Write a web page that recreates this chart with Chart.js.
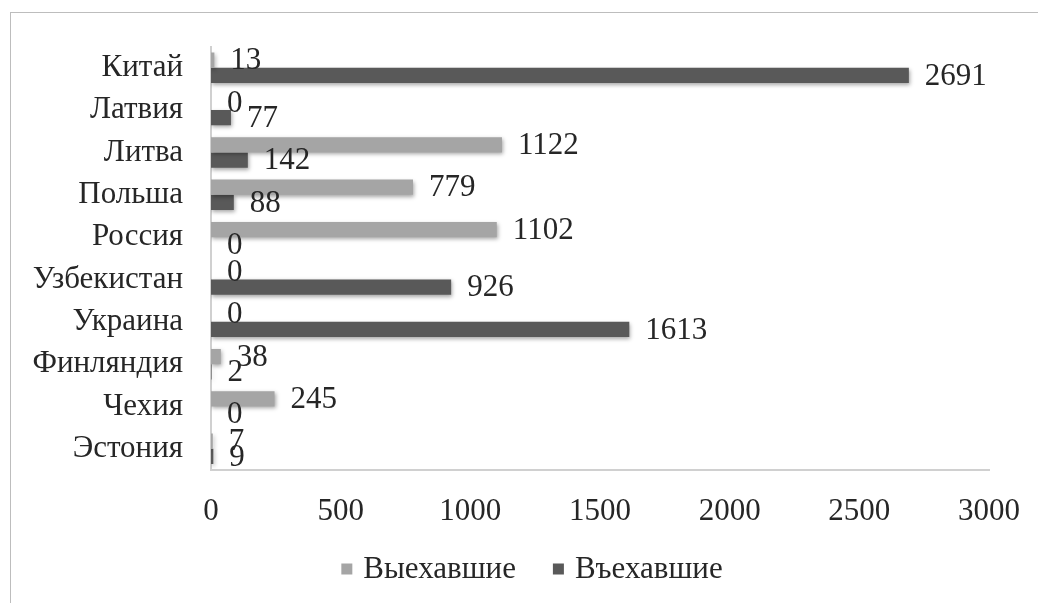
<!DOCTYPE html>
<html>
<head>
<meta charset="utf-8">
<script src="https://cdn.jsdelivr.net/npm/chart.js@4"></script>
<style>
  body { margin: 0; background: #fff; overflow: hidden; }
  #frame { position: absolute; left: 10px; top: 12px; width: 1200px; height: 800px; border: 1px solid #bdbdbd; }
  #wrap { position: absolute; left: 0; top: 0; width: 1038px; height: 603px; }
</style>
</head>
<body>
<div id="frame"></div>
<div id="wrap"><canvas id="migration"></canvas></div>
<script>
let countries = ["Китай", "Латвия", "Литва", "Польша", "Россия", "Узбекистан", "Украина", "Финляндия", "Чехия", "Эстония"];
let departed = [13, 0, 1122, 779, 1102, 0, 0, 38, 245, 7];   // Выехавшие
let arrived = [2691, 77, 142, 88, 0, 926, 1613, 2, 0, 9];    // Въехавшие
let xTicks = [0, 500, 1000, 1500, 2000, 2500, 3000];

let serif = "'Liberation Serif', 'Times New Roman', serif";
let fontSize = 31;
let textColor = "#262626";

// тень под столбцами, как в Excel
let barShadow = {
  id: "barShadow",
  beforeDatasetsDraw(chart) {
    let c = chart.ctx;
    c.save();
    c.shadowColor = "rgba(0,0,0,0.35)";
    c.shadowBlur = 4;
    c.shadowOffsetX = 1;
    c.shadowOffsetY = 2;
  },
  afterDatasetsDraw(chart) {
    chart.ctx.restore();
  }
};

// подписи значений справа от столбцов
let valueLabels = {
  id: "valueLabels",
  afterDatasetsDraw(chart) {
    let c = chart.ctx;
    c.save();
    c.font = fontSize + "px " + serif;
    c.fillStyle = textColor;
    c.textAlign = "left";
    c.textBaseline = "middle";
    chart.data.datasets.forEach(function (ds, i) {
      chart.getDatasetMeta(i).data.forEach(function (bar, j) {
        c.fillText(String(ds.data[j]), bar.x + 16, bar.y + 1);
      });
    });
    c.restore();
  }
};

// легенда внизу (центр смещён влево, как в исходнике)
let bottomLegend = {
  id: "bottomLegend",
  afterDraw(chart) {
    let c = chart.ctx;
    let box = 11, gapText = 11, gapItem = 37;
    let cx = 532, cy = 569;
    c.save();
    c.font = fontSize + "px " + serif;
    c.textBaseline = "middle";
    c.textAlign = "left";
    let sets = chart.data.datasets;
    let total = 0;
    sets.forEach(function (ds, i) {
      total += box + gapText + c.measureText(ds.label).width + (i > 0 ? gapItem : 0);
    });
    let x = cx - total / 2;
    sets.forEach(function (ds) {
      c.fillStyle = ds.backgroundColor;
      c.fillRect(x, cy - box / 2, box, box);
      x += box + gapText;
      c.fillStyle = textColor;
      c.fillText(ds.label, x, cy + 1);
      x += c.measureText(ds.label).width + gapItem;
    });
    c.restore();
  }
};

let ctx = document.getElementById("migration").getContext("2d");
let migrationChart = new Chart(ctx, {
  type: "bar",
  data: {
    labels: countries,
    datasets: [
      {label: "Выехавшие", data: departed, backgroundColor: "#a5a5a5"},
      {label: "Въехавшие", data: arrived, backgroundColor: "#595959"}
    ]
  },
  options: {
    indexAxis: "y",
    responsive: true,
    maintainAspectRatio: false,
    animation: false,
    layout: {padding: {top: 42, right: 49, bottom: 73, left: 0}},
    datasets: {bar: {categoryPercentage: 0.72, barPercentage: 1.0}},
    scales: {
      x: {
        min: 0,
        max: 3000,
        afterBuildTicks: function (axis) {
          axis.ticks = xTicks.map(function (v) { return {value: v}; });
        },
        afterFit: function (axis) {
          axis.height = 60;
          axis.paddingLeft = 0;
          axis.paddingRight = 0;
        },
        grid: {display: false, drawTicks: false},
        border: {color: "#d0d0d0", width: 2},
        ticks: {
          padding: 23,
          color: textColor,
          font: {family: serif, size: fontSize},
          callback: function (v) { return String(v); }
        }
      },
      y: {
        afterFit: function (axis) { axis.width = 211; },
        grid: {display: false, drawTicks: false},
        border: {color: "#d0d0d0", width: 2},
        ticks: {padding: 28, color: textColor, font: {family: serif, size: fontSize}}
      }
    },
    plugins: {
      legend: {display: false},
      tooltip: {enabled: false}
    }
  },
  plugins: [barShadow, valueLabels, bottomLegend]
});
</script>
</body>
</html>
